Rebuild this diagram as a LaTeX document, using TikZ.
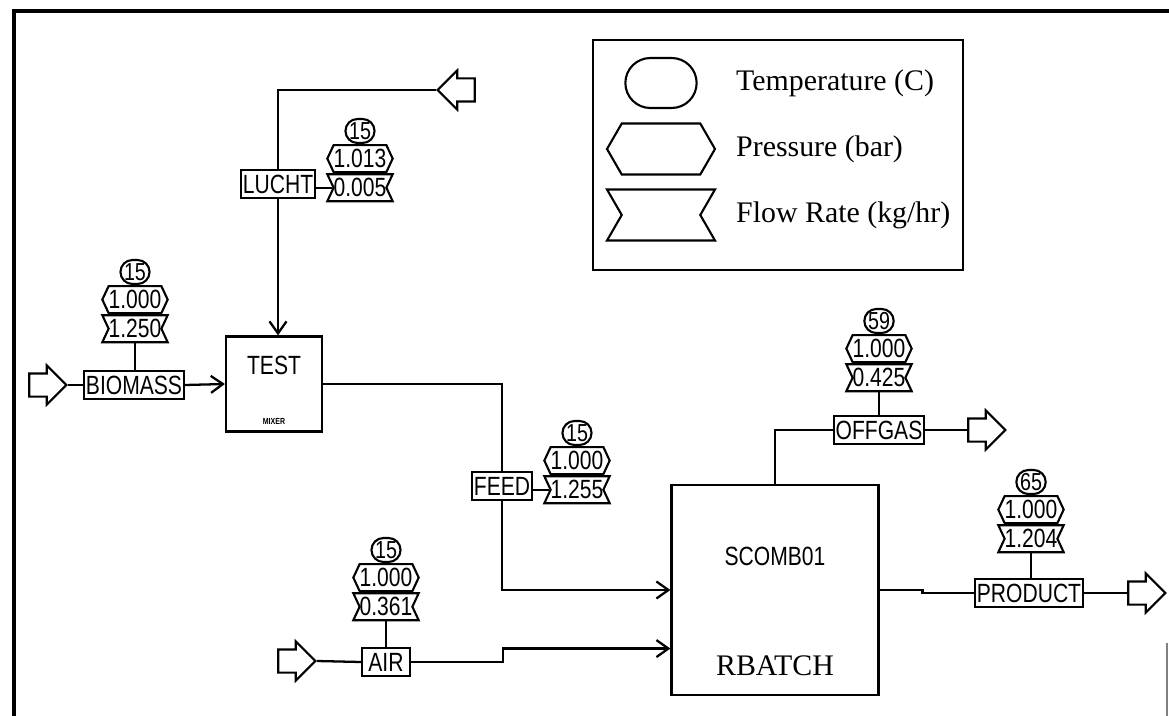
\documentclass[tikz,border=0pt]{standalone}
\usepackage{fontspec}
\setmainfont{Liberation Serif}
\newfontfamily\pixfont[FakeStretch=0.8]{Liberation Sans}
\usetikzlibrary{positioning,arrows.meta,calc,shapes.misc,shapes.symbols,shapes.arrows}
\tikzset{
  line/.style={line width=1.3pt},
  arrow/.style={line,-{Straight Barb[length=2.4mm,width=3.4mm]}},
  unit-box/.style={draw,line width=1.3pt,minimum width=1.92cm,minimum height=1.9cm},
  unit-name/.style={font=\pixfont\fontsize{15}{15}\selectfont},
  tag-box/.style={draw,line width=1.2pt,minimum height=0.56cm,inner xsep=1pt,
    inner ysep=0pt,font=\pixfont\fontsize{15}{15}\selectfont},
  tag-temp/.style={draw,line width=1.2pt,rounded rectangle,minimum width=0.48cm,
    minimum height=0.48cm,inner sep=0pt,font=\pixfont\fontsize{14}{14}\selectfont},
  tag-pres/.style={draw,line width=1.2pt,signal,signal to=west and east,
    signal pointer angle=130,minimum width=1.24cm,minimum height=0.54cm,
    inner sep=0pt,font=\pixfont\fontsize{15}{15}\selectfont},
  tag-flow/.style={draw,line width=1.2pt,signal,signal to=nowhere,
    signal from=west and east,signal pointer angle=130,minimum width=1.24cm,
    minimum height=0.54cm,inner sep=0pt,font=\pixfont\fontsize{15}{15}\selectfont},
  feed-arrow/.style={draw,line width=1.2pt,single arrow,single arrow head extend=0.16cm,
    single arrow tip angle=90,minimum height=0.74cm,inner xsep=0pt,inner ysep=0.21cm},
  key-text/.style={anchor=west,font=\fontsize{17}{19}\selectfont},
}
\begin{document}
\begin{tikzpicture}[x=0.02cm,y=-0.02cm]
  \useasboundingbox (0,0) rectangle (1169,716);
  \draw[line width=1.8pt] (14,716) -- (14,11) -- (1169,11);
  \draw[line width=1pt,gray] (1167,643) -- (1167,716);

  % legend
  \node[draw,line width=1.2pt,minimum width=7.4cm,minimum height=4.6cm] (legend) at (778,155) {};
  \node[draw,line width=1.2pt,rounded rectangle,minimum width=1.66cm,minimum height=1cm]
    (key-t) at (661,83) {};
  \node[tag-pres,minimum width=2.16cm,minimum height=1.02cm,signal pointer angle=120]
    (key-p) at (661,149) {};
  \node[tag-flow,minimum width=2.16cm,minimum height=1.02cm,signal pointer angle=120]
    (key-f) at (661,215) {};
  \node[key-text] (key-t-txt) at (730,83) {Temperature (C)};
  \node[key-text] (key-p-txt) at (730,149) {Pressure (bar)};
  \node[key-text] (key-f-txt) at (730,215) {Flow Rate (kg/hr)};

  % blocks
  \node[unit-box] (test) at (274,384) {};
  \node[unit-name,below=0.3cm of test.north] (test-name) {TEST};
  \node[font=\pixfont\bfseries\fontsize{5}{5}\selectfont,above=1pt of test.south]
    (test-type) {MIXER};
  \node[unit-box,minimum width=4.14cm,minimum height=4.2cm] (scomb) at (775,590) {};
  \node[unit-name,below=1.15cm of scomb.north] (scomb-name) {SCOMB01};
  \node[font=\fontsize{17}{17}\selectfont,above=0.28cm of scomb.south] (scomb-type) {RBATCH};

  % BIOMASS
  \node[feed-arrow] (bio-src) at (42,385) {};
  \node[tag-box,minimum width=1.9cm] (bio-lbl) at (134,385) {BIOMASS};
  \node[tag-temp] (bio-t) at (135,272) {15};
  \node[tag-pres,below=0pt of bio-t] (bio-p) {1.000};
  \node[tag-flow,below=0pt of bio-p] (bio-f) {1.250};
  \draw[line] (bio-src.east) -- (bio-lbl.west);
  \draw[arrow] (bio-lbl.east) -- (test.west);
  \draw[line] (bio-f.south) -- (bio-f.south |- bio-lbl.north);

  % LUCHT
  \node[feed-arrow,shape border rotate=180] (lucht-src) at (462,90) {};
  \node[tag-box,minimum width=1.42cm] (lucht-lbl) at (278,184) {LUCHT};
  \node[tag-temp] (lucht-t) at (360,131) {15};
  \node[tag-pres,below=0pt of lucht-t] (lucht-p) {1.013};
  \node[tag-flow,below=0pt of lucht-p] (lucht-f) {0.005};
  \draw[line] (lucht-src.west) -| (lucht-lbl.north);
  \draw[arrow] (lucht-lbl.south) -- (lucht-lbl.south |- test.north);
  \draw[line] (lucht-f.west) -- (lucht-f.west -| lucht-lbl.east);

  % FEED
  \node[tag-box,minimum width=1.14cm] (feed-lbl) at (502,486) {FEED};
  \node[tag-temp] (feed-t) at (577,433) {15};
  \node[tag-pres,below=0pt of feed-t] (feed-p) {1.000};
  \node[tag-flow,below=0pt of feed-p] (feed-f) {1.255};
  \draw[line] (test.east) -| (feed-lbl.north);
  \draw[arrow] (feed-lbl.south) |- (scomb.west);
  \draw[line] (feed-f.west) -- (feed-f.west -| feed-lbl.east);

  % AIR
  \node[feed-arrow] (air-src) at (291,661) {};
  \node[tag-box,minimum width=0.96cm] (air-lbl) at (386,662) {AIR};
  \node[tag-temp] (air-t) at (386,550) {15};
  \node[tag-pres,below=0pt of air-t] (air-p) {1.000};
  \node[tag-flow,below=0pt of air-p] (air-f) {0.361};
  \coordinate (scomb-in) at ($(scomb.south west)!0.224!(scomb.north west)$);
  \draw[line] (air-src.east) -- (air-lbl.west);
  \draw[arrow] (air-lbl.east) -- ++(92,0) |- (scomb-in);
  \draw[line] (air-f.south) -- (air-f.south |- air-lbl.north);

  % OFFGAS
  \node[tag-box,minimum width=1.6cm] (offgas-lbl) at (879,430) {OFFGAS};
  \node[feed-arrow] (offgas-dst) at (981,430) {};
  \node[tag-temp] (offgas-t) at (879,321) {59};
  \node[tag-pres,below=0pt of offgas-t] (offgas-p) {1.000};
  \node[tag-flow,below=0pt of offgas-p] (offgas-f) {0.425};
  \draw[line] (scomb.north) |- (offgas-lbl.west);
  \draw[line] (offgas-lbl.east) -- (offgas-dst.west);
  \draw[line] (offgas-f.south) -- (offgas-f.south |- offgas-lbl.north);

  % PRODUCT
  \node[tag-box,minimum width=1.96cm] (product-lbl) at (1029,593) {PRODUCT};
  \node[feed-arrow] (product-dst) at (1141,593) {};
  \node[tag-temp] (product-t) at (1031,482) {65};
  \node[tag-pres,below=0pt of product-t] (product-p) {1.000};
  \node[tag-flow,below=0pt of product-p] (product-f) {1.204};
  \draw[line] (scomb.east) -- ++(43,0) |- (product-lbl.west);
  \draw[line] (product-lbl.east) -- (product-dst.west);
  \draw[line] (product-f.south) -- (product-f.south |- product-lbl.north);
\end{tikzpicture}
\end{document}
